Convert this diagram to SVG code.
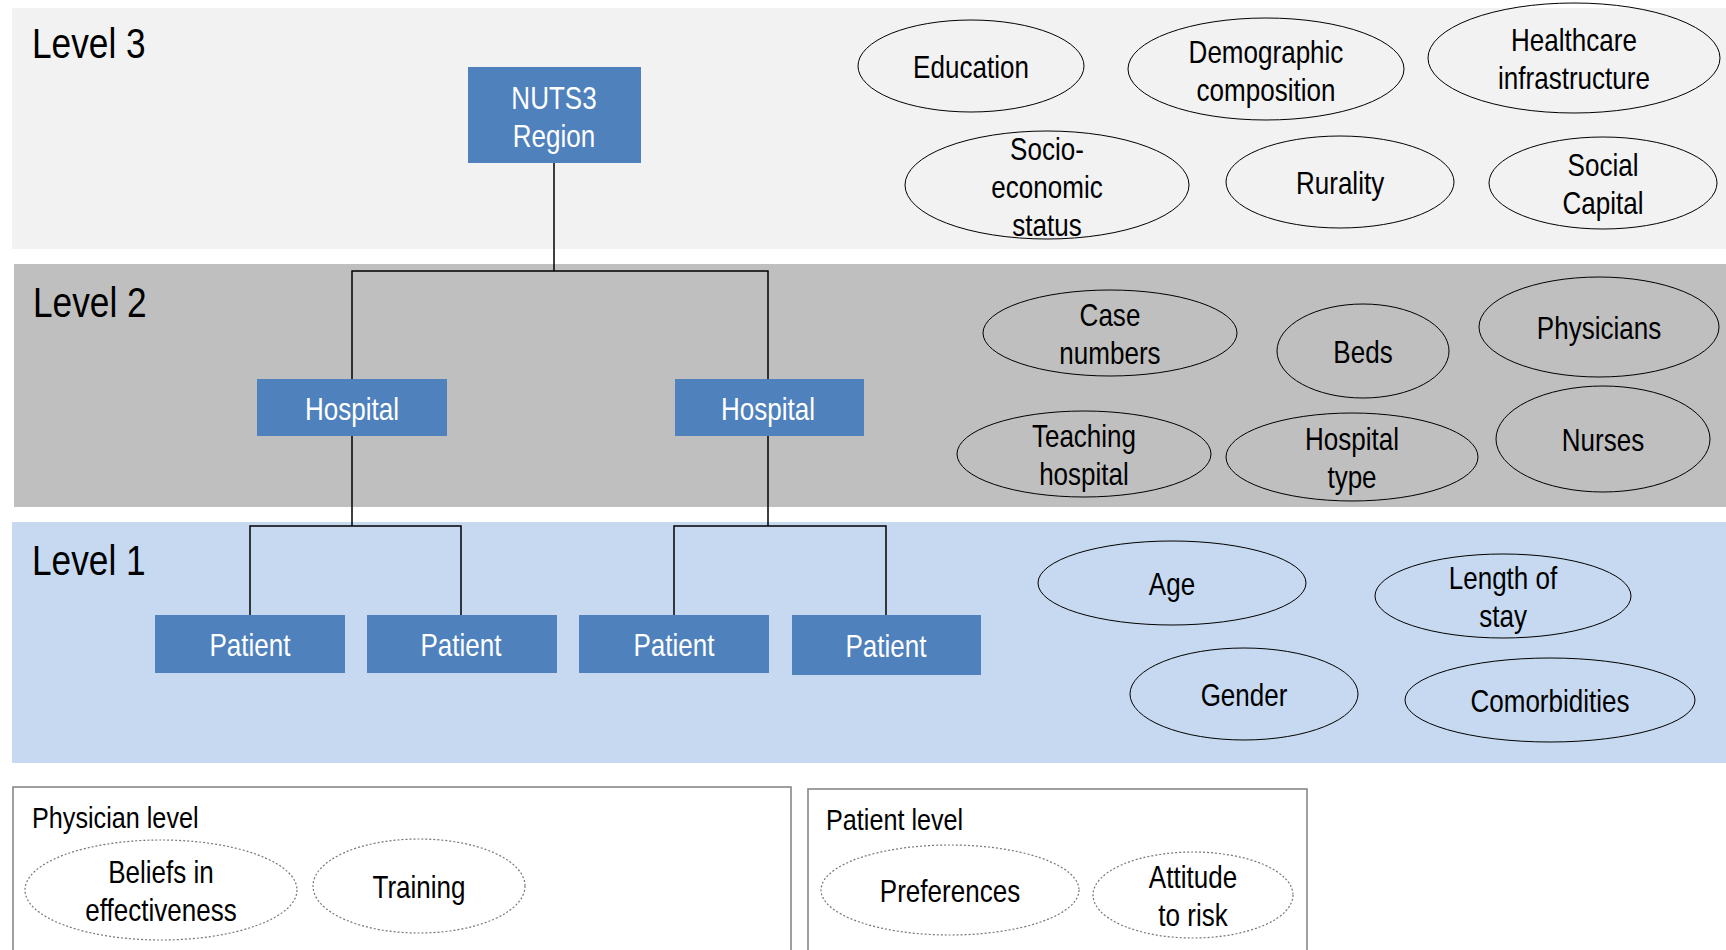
<svg xmlns="http://www.w3.org/2000/svg" width="1726" height="950" viewBox="0 0 1726 950">
<style>
text{font-family:"Liberation Sans",Arial,sans-serif;font-size:31px;fill:#000;text-anchor:middle;transform-box:fill-box;transform-origin:center;transform:scaleX(0.84)}
.lvl{font-size:42px;text-anchor:start;transform-origin:left center}
.sub{font-size:30px;text-anchor:start;transform-origin:left center}
.box rect{fill:#4f81bd}
.box text{fill:#fff}
.ov ellipse{fill:none;stroke:#000;stroke-width:1}
.dot ellipse{fill:none;stroke:#777;stroke-width:1.2;stroke-dasharray:2 2}
.conn path{fill:none;stroke:#000;stroke-width:1.5}
</style>
<rect width="1726" height="950" fill="#fff"/>
<g id="bands">
<rect x="12" y="8" width="1714" height="241" fill="#f2f2f2"/>
<rect x="14" y="264" width="1712" height="243" fill="#bfbfbf"/>
<rect x="12" y="522" width="1714" height="241" fill="#c6d9f1"/>
<text class="lvl" x="32" y="58">Level 3</text>
<text class="lvl" x="33" y="317">Level 2</text>
<text class="lvl" x="32" y="575">Level 1</text>
</g>
<g class="conn" id="connectors">
<path d="M554 163V271M352 379V271H768V379"/>
<path d="M352 436V526M250 615V526H461V615"/>
<path d="M768 436V526M674 615V526H886V615"/>
</g>
<g class="box" id="nuts3"><rect x="468" y="67" width="173" height="96"/><text x="554" y="109">NUTS3</text><text x="554" y="147">Region</text></g>
<g class="box" id="hospital1"><rect x="257" y="379" width="190" height="57"/><text x="352" y="420">Hospital</text></g>
<g class="box" id="hospital2"><rect x="675" y="379" width="189" height="57"/><text x="768" y="420">Hospital</text></g>
<g class="box" id="patient1"><rect x="155" y="615" width="190" height="58"/><text x="250" y="656">Patient</text></g>
<g class="box" id="patient2"><rect x="367" y="615" width="190" height="58"/><text x="461" y="656">Patient</text></g>
<g class="box" id="patient3"><rect x="579" y="615" width="190" height="58"/><text x="674" y="656">Patient</text></g>
<g class="box" id="patient4"><rect x="792" y="615" width="189" height="60"/><text x="886" y="657">Patient</text></g>
<g class="ov" id="education"><ellipse cx="971" cy="66" rx="113" ry="46"/><text x="971" y="78">Education</text></g>
<g class="ov" id="demographic"><ellipse cx="1266" cy="69" rx="138" ry="51"/><text x="1266" y="63">Demographic</text><text x="1266" y="101">composition</text></g>
<g class="ov" id="healthcare"><ellipse cx="1574" cy="58" rx="146" ry="55"/><text x="1574" y="51">Healthcare</text><text x="1574" y="89">infrastructure</text></g>
<g class="ov" id="socioeconomic"><ellipse cx="1047" cy="185" rx="142" ry="54"/><text x="1047" y="160">Socio-</text><text x="1047" y="198">economic</text><text x="1047" y="236">status</text></g>
<g class="ov" id="rurality"><ellipse cx="1340" cy="182" rx="114" ry="46"/><text x="1340" y="194">Rurality</text></g>
<g class="ov" id="socialcapital"><ellipse cx="1603" cy="183" rx="114" ry="46"/><text x="1603" y="176">Social</text><text x="1603" y="214">Capital</text></g>
<g class="ov" id="casenumbers"><ellipse cx="1110" cy="333" rx="127" ry="43"/><text x="1110" y="326">Case</text><text x="1110" y="364">numbers</text></g>
<g class="ov" id="beds"><ellipse cx="1363" cy="351" rx="86" ry="47"/><text x="1363" y="363">Beds</text></g>
<g class="ov" id="physicians"><ellipse cx="1599" cy="327" rx="120" ry="50"/><text x="1599" y="339">Physicians</text></g>
<g class="ov" id="teaching"><ellipse cx="1084" cy="454" rx="127" ry="43"/><text x="1084" y="447">Teaching</text><text x="1084" y="485">hospital</text></g>
<g class="ov" id="hospitaltype"><ellipse cx="1352" cy="457" rx="126" ry="44"/><text x="1352" y="450">Hospital</text><text x="1352" y="488">type</text></g>
<g class="ov" id="nurses"><ellipse cx="1603" cy="439" rx="107" ry="53"/><text x="1603" y="451">Nurses</text></g>
<g class="ov" id="age"><ellipse cx="1172" cy="583" rx="134" ry="42"/><text x="1172" y="595">Age</text></g>
<g class="ov" id="lengthofstay"><ellipse cx="1503" cy="596" rx="128" ry="42"/><text x="1503" y="589">Length of</text><text x="1503" y="627">stay</text></g>
<g class="ov" id="gender"><ellipse cx="1244" cy="694" rx="114" ry="46"/><text x="1244" y="706">Gender</text></g>
<g class="ov" id="comorbidities"><ellipse cx="1550" cy="700" rx="145" ry="42"/><text x="1550" y="712">Comorbidities</text></g>
<g id="physicianlevel">
<rect x="13" y="787" width="778" height="180" fill="#fff" stroke="#808080" stroke-width="1.5"/>
<text class="sub" x="32" y="828">Physician level</text>
</g>
<g class="dot" id="beliefs"><ellipse cx="161" cy="890" rx="136" ry="50"/><text x="161" y="883">Beliefs in</text><text x="161" y="921">effectiveness</text></g>
<g class="dot" id="training"><ellipse cx="419" cy="886" rx="106" ry="47"/><text x="419" y="898">Training</text></g>
<g id="patientlevel">
<rect x="808" y="789" width="499" height="180" fill="#fff" stroke="#808080" stroke-width="1.5"/>
<text class="sub" x="826" y="830">Patient level</text>
</g>
<g class="dot" id="preferences"><ellipse cx="950" cy="890" rx="129" ry="45"/><text x="950" y="902">Preferences</text></g>
<g class="dot" id="attitude"><ellipse cx="1193" cy="895" rx="100" ry="43"/><text x="1193" y="888">Attitude</text><text x="1193" y="926">to risk</text></g>
</svg>
